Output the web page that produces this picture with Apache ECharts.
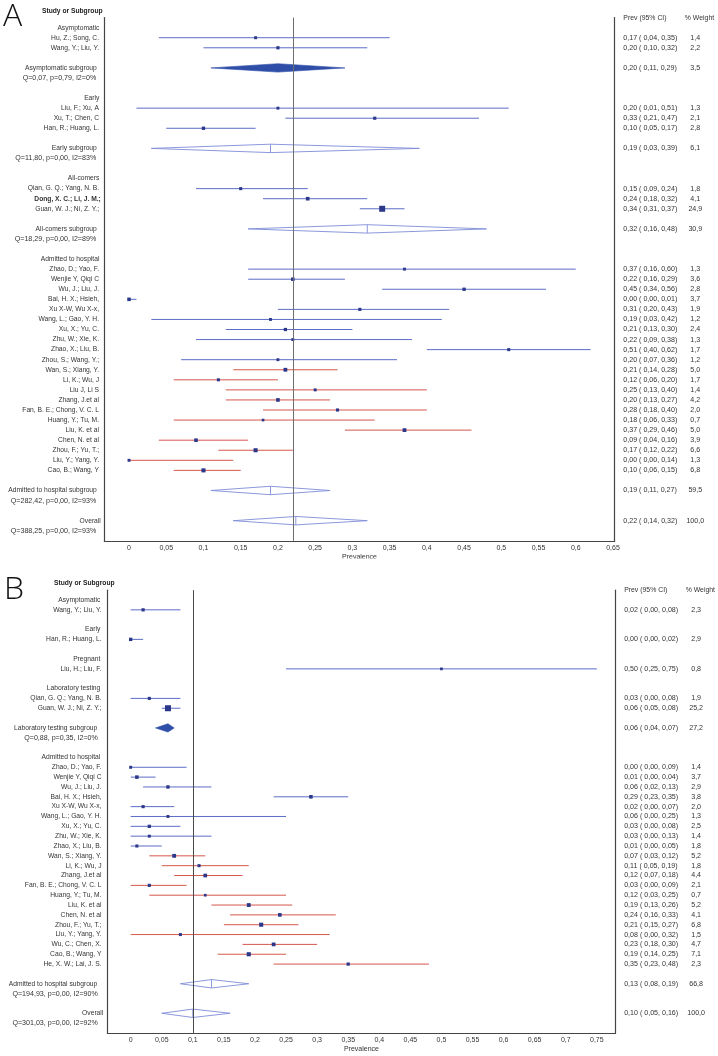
<!DOCTYPE html>
<html><head><meta charset="utf-8">
<script src="https://cdn.jsdelivr.net/npm/echarts@6/dist/echarts.min.js"></script>
<style>html,body{margin:0;padding:0;background:#fff}#c{width:718px;height:1056px}</style>
</head><body><div id="c"></div>
<script>
// ================= Panel A data =================
const groupsA = ['Asymptomatic','Early','All-comers','Admitted to hospital'];
const studiesA = ['Hu, Z.; Song, C.','Wang, Y.; Liu, Y.',
  'Liu, F.; Xu, A','Xu, T.; Chen, C','Han, R.; Huang, L.',
  'Qian, G. Q.; Yang, N. B.','Dong, X. C.; Li, J. M.;','Guan, W. J.; Ni, Z. Y.;',
  'Zhao, D.; Yao, F.','Wenjie Y, Qiqi C','Wu, J.; Liu, J.','Bai, H. X.; Hsieh,','Xu X-W, Wu X-x,',
  'Wang, L.; Gao, Y. H.','Xu, X.; Yu, C.','Zhu, W.; Xie, K.','Zhao, X.; Liu, B.','Zhou, S.; Wang, Y.;',
  'Wan, S.; Xiang, Y.','Li, K.; Wu, J','Liu J, Li S','Zhang, J.et al','Fan, B. E.; Chong, V. C. L',
  'Huang, Y.; Tu, M.','Liu, K. et al','Chen, N. et al','Zhou, F.; Yu, T.;','Liu, Y.; Yang, Y.','Cao, B.; Wang, Y'];
const studyGroupA = [0,0, 1,1,1, 2,2,2, 3,3,3,3,3,3,3,3,3,3,3,3,3,3,3,3,3,3,3,3,3];
const tintA       = [0,0, 0,0,0, 0,0,0, 0,0,0,0,0,0,0,0,0,0,1,1,1,1,1,1,1,1,1,1,1];
const boldA = [6];
const estA = [0.17,0.20, 0.20,0.33,0.10, 0.15,0.24,0.34, 0.37,0.22,0.45,0.00,0.31,0.19,0.21,0.22,0.51,0.20,0.21,0.12,0.25,0.20,0.28,0.18,0.37,0.09,0.17,0.00,0.10];
const loA  = [0.04,0.10, 0.01,0.21,0.05, 0.09,0.18,0.31, 0.16,0.16,0.34,0.00,0.20,0.03,0.13,0.09,0.40,0.07,0.14,0.06,0.13,0.13,0.18,0.06,0.29,0.04,0.12,0.00,0.06];
const hiA  = [0.35,0.32, 0.51,0.47,0.17, 0.24,0.32,0.37, 0.60,0.29,0.56,0.01,0.43,0.42,0.30,0.38,0.62,0.36,0.28,0.20,0.40,0.27,0.40,0.33,0.46,0.16,0.22,0.14,0.15];
const wA   = [1.4,2.2, 1.3,2.1,2.8, 1.8,4.1,24.9, 1.3,3.6,2.8,3.7,1.9,1.2,2.4,1.3,1.7,1.2,5.0,1.7,1.4,4.2,2.0,0.7,5.0,3.9,6.6,1.3,6.8];
const subEstA = [0.20,0.19,0.32,0.19];
const subLoA  = [0.11,0.03,0.16,0.11];
const subHiA  = [0.29,0.39,0.48,0.27];
const subWA   = [3.5,6.1,30.9,59.5];
const subFilledA = [1,0,0,0];
const subQA = ['Q=0,07, p=0,79, I2=0%','Q=11,80, p=0,00, I2=83%','Q=18,29, p=0,00, I2=89%','Q=282,42, p=0,00, I2=93%'];
const overallA = [0.224,0.14,0.32,100.0];
const overallQA = 'Q=388,25, p=0,00, I2=93%';
const ticksA = [0,0.05,0.1,0.15,0.2,0.25,0.3,0.35,0.4,0.45,0.5,0.55,0.6,0.65];

// ================= Panel B data =================
const groupsB = ['Asymptomatic','Early','Pregnant','Laboratory testing','Admitted to hospital'];
const studiesB = ['Wang, Y.; Liu, Y.','Han, R.; Huang, L.','Liu, H.; Liu, F.',
  'Qian, G. Q.; Yang, N. B.','Guan, W. J.; Ni, Z. Y.;',
  'Zhao, D.; Yao, F.','Wenjie Y, Qiqi C','Wu, J.; Liu, J.','Bai, H. X.; Hsieh,','Xu X-W, Wu X-x,',
  'Wang, L.; Gao, Y. H.','Xu, X.; Yu, C.','Zhu, W.; Xie, K.','Zhao, X.; Liu, B.',
  'Wan, S.; Xiang, Y.','Li, K.; Wu, J','Zhang, J.et al','Fan, B. E.; Chong, V. C. L','Huang, Y.; Tu, M.',
  'Liu, K. et al','Chen, N. et al','Zhou, F.; Yu, T.;','Liu, Y.; Yang, Y.','Wu, C.; Chen, X.','Cao, B.; Wang, Y','He, X. W.; Lai, J. S.'];
const studyGroupB = [0,1,2,3,3, 4,4,4,4,4,4,4,4,4,4,4,4,4,4,4,4,4,4,4,4,4];
const tintB       = [0,0,0,0,0, 0,0,0,0,0,0,0,0,0,1,1,1,1,1,1,1,1,1,1,1,1];
const boldB = [];
const estB = [0.02,0.00,0.50,0.03,0.06, 0.00,0.01,0.06,0.29,0.02,0.06,0.03,0.03,0.01,0.07,0.11,0.12,0.03,0.12,0.19,0.24,0.21,0.08,0.23,0.19,0.35];
const loB  = [0.00,0.00,0.25,0.00,0.05, 0.00,0.00,0.02,0.23,0.00,0.00,0.00,0.00,0.00,0.03,0.05,0.07,0.00,0.03,0.13,0.16,0.15,0.00,0.18,0.14,0.23];
const hiB  = [0.08,0.02,0.75,0.08,0.08, 0.09,0.04,0.13,0.35,0.07,0.25,0.08,0.13,0.05,0.12,0.19,0.18,0.09,0.25,0.26,0.33,0.27,0.32,0.30,0.25,0.48];
const wB   = [2.3,2.9,0.8,1.9,25.2, 1.4,3.7,2.9,3.8,2.0,1.3,2.5,1.4,1.8,5.2,1.8,4.4,2.1,0.7,5.2,4.1,6.8,1.5,4.7,7.1,2.3];
const subEstB = [null,null,null,0.06,0.13];
const subLoB  = [null,null,null,0.04,0.08];
const subHiB  = [null,null,null,0.07,0.19];
const subWB   = [null,null,null,27.2,66.8];
const subFilledB = [0,0,0,1,0];
const subQB = [null,null,null,'Q=0,88, p=0,35, I2=0%','Q=194,93, p=0,00, I2=90%'];
const overallB = [0.10,0.05,0.16,100.0];
const overallQB = 'Q=301,03, p=0,00, I2=92%';
const ticksB = [0,0.05,0.1,0.15,0.2,0.25,0.3,0.35,0.4,0.45,0.5,0.55,0.6,0.65,0.7,0.75];

// ================= helpers =================
const FONT = '"Liberation Sans", Arial, Helvetica, sans-serif';
const BLUE = '#5b6cc6', RED = '#d5574d', SQ = '#2b3788', DFILL = '#2f4ea8', DLINE = '#7e8cd8', AX = '#454545';
const f2 = v => v.toFixed(2).replace('.', ',');
const f1 = v => v.toFixed(1).replace('.', ',');
const valTxt = (e,l,h,w) => '{v|' + f2(e) + ' ( ' + f2(l) + ', ' + f2(h) + ')}{w|' + f1(w) + '}';

function build(P){
  const left = {}, right = {}, studies = [], sums = [];
  let r = 0;
  P.groups.forEach((g, gi) => {
    left[r] = '{g|' + g + '}'; r++;
    P.studies.forEach((s, si) => {
      if (P.studyGroup[si] !== gi) return;
      left[r] = (P.bold.indexOf(si) >= 0 ? '{b|' : '{n|') + s + '}';
      right[r] = valTxt(P.est[si], P.lo[si], P.hi[si], P.w[si]);
      studies.push([P.est[si], P.lo[si], P.hi[si], r, P.w[si], P.tint[si]]);
      r++;
    });
    r++;
    if (P.subEst[gi] != null){
      left[r] = '{s|' + g + ' subgroup}';
      right[r] = valTxt(P.subEst[gi], P.subLo[gi], P.subHi[gi], P.subW[gi]);
      sums.push([P.subEst[gi], P.subLo[gi], P.subHi[gi], r, P.subFilled[gi]]);
      r++;
      left[r] = '{q|' + P.subQ[gi] + '}'; r++;
      r++;
    }
  });
  left[r] = '{o|Overall}';
  right[r] = valTxt(P.overall[0], P.overall[1], P.overall[2], P.overall[3]);
  sums.push([P.overall[0], P.overall[1], P.overall[2], r, 0]);
  r++;
  left[r] = '{q|' + P.overallQ + '}';
  right[-1] = '{h|Prev (95% CI)}{hw|% Weight}';
  return {left, right, studies, sums, last: r};
}

const A = build({groups:groupsA, studies:studiesA, studyGroup:studyGroupA, tint:tintA, bold:boldA,
  est:estA, lo:loA, hi:hiA, w:wA, subEst:subEstA, subLo:subLoA, subHi:subHiA, subW:subWA,
  subFilled:subFilledA, subQ:subQA, overall:overallA, overallQ:overallQA});
const B = build({groups:groupsB, studies:studiesB, studyGroup:studyGroupB, tint:tintB, bold:boldB,
  est:estB, lo:loB, hi:hiB, w:wB, subEst:subEstB, subLo:subLoB, subHi:subHiB, subW:subWB,
  subFilled:subFilledB, subQ:subQB, overall:overallB, overallQ:overallQB});

function renderStudy(params, api){
  const est = api.value(0), lo = api.value(1), hi = api.value(2), row = api.value(3), w = api.value(4), t = api.value(5);
  const p0 = api.coord([lo, row]), p1 = api.coord([hi, row]), pc = api.coord([est, row]);
  const s = 2 + 0.8 * Math.sqrt(w);
  return {type:'group', children:[
    {type:'line', shape:{x1:p0[0], y1:p0[1], x2:p1[0], y2:p1[1]}, style:{stroke: t ? RED : BLUE, lineWidth:1}},
    {type:'rect', shape:{x:pc[0]-s/2, y:pc[1]-s/2, width:s, height:s}, style:{fill:SQ}}
  ]};
}
function renderSum(params, api){
  const est = api.value(0), lo = api.value(1), hi = api.value(2), row = api.value(3), filled = api.value(4);
  const pl = api.coord([lo, row]), pr = api.coord([hi, row]), pc = api.coord([est, row]);
  const h = 4.2;
  const pts = [[pl[0], pl[1]], [pc[0], pc[1]-h], [pr[0], pr[1]], [pc[0], pc[1]+h]];
  const ch = [{type:'polygon', shape:{points:pts},
    style: filled ? {fill:DFILL, stroke:DFILL, lineWidth:0.6} : {fill:'none', stroke:DLINE, lineWidth:0.9}}];
  if (!filled) ch.push({type:'line', shape:{x1:pc[0], y1:pc[1]-h, x2:pc[0], y2:pc[1]+h}, style:{stroke:DLINE, lineWidth:0.9}});
  return {type:'group', children:ch};
}

function leftRich(p){
  const base = {fontFamily:FONT, fontSize:6.7, color:'#333'};
  return {
    g: Object.assign({}, base, {padding:[0,p.g,0,0]}),
    n: Object.assign({}, base, {padding:[0,p.n,0,0]}),
    b: Object.assign({}, base, {fontWeight:'bold', padding:[0,p.b,0,0]}),
    s: Object.assign({}, base, {padding:[0,p.s,0,0]}),
    q: Object.assign({}, base, {fontSize:7.1, padding:[0,p.q,0,0]}),
    o: Object.assign({}, base, {padding:[0,p.o,0,0]})
  };
}
const rightRich = {
  v: {fontFamily:FONT, fontSize:7.1, color:'#333', width:64, align:'left'},
  w: {fontFamily:FONT, fontSize:7.1, color:'#333', width:16, align:'center'},
  h: {fontFamily:FONT, fontSize:6.9, color:'#333', width:61.5, align:'left'},
  hw:{fontFamily:FONT, fontSize:6.9, color:'#333', align:'left'}
};
const xFmt = v => String(+(+v).toFixed(2)).replace('.', ',');

function xAxisCfg(gi, min, max, ticks){
  return {type:'value', gridIndex:gi, min:min, max:max, position:'bottom',
    axisLine:{show:true, onZero:false, lineStyle:{color:AX, width:1.2}}, axisTick:{show:false}, splitLine:{show:false},
    axisLabel:{customValues:ticks, formatter:xFmt, fontFamily:FONT, fontSize:7, color:'#333', margin:4},
    name:'Prevalence', nameLocation:'middle', nameGap:12.5,
    nameTextStyle:{fontFamily:FONT, fontSize:7, color:'#333'}};
}
function yLeft(gi, P, margin, pads){
  const rows = Object.keys(P.left).map(Number);
  return {type:'value', gridIndex:gi, inverse:true, min:-1, max:P.last+1, position:'left',
    axisLine:{show:true, onZero:false, lineStyle:{color:AX, width:1.2}}, axisTick:{show:false}, splitLine:{show:false},
    axisLabel:{customValues:rows, formatter:v => P.left[Math.round(v)] || '', margin:margin, rich:leftRich(pads)}};
}
function yRight(gi, P){
  const rows = Object.keys(P.right).map(Number);
  return {type:'value', gridIndex:gi, inverse:true, min:-1, max:P.last+1, position:'right',
    axisLine:{show:true, onZero:false, lineStyle:{color:AX, width:1.2}}, axisTick:{show:false}, splitLine:{show:false},
    axisLabel:{customValues:rows, formatter:v => P.right[Math.round(v)] || '', margin:8.6, rich:rightRich}};
}

const chart = echarts.init(document.getElementById('c'), null, {renderer:'canvas'});
chart.setOption({
  animation:false,
  backgroundColor:'#fff',
  title:[
    {text:'A', left:3, top:1, padding:0, textStyle:{fontFamily:'"Open Sans", sans-serif', fontWeight:300, fontSize:32, color:'#111'}},
    {text:'Study or Subgroup', left:42, top:7.2, padding:0, textStyle:{fontFamily:FONT, fontWeight:'bold', fontSize:6.7, color:'#222'}},
    {text:'B', left:4, top:573.5, padding:0, textStyle:{fontFamily:'"Open Sans", sans-serif', fontWeight:300, fontSize:32, color:'#111'}},
    {text:'Study or Subgroup', left:54, top:579.8, padding:0, textStyle:{fontFamily:FONT, fontWeight:'bold', fontSize:6.7, color:'#222'}}
  ],
  grid:[
    {left:104.3, top:17.6, width:510.4, height:523.2, containLabel:false},
    {left:107.3, top:590.16, width:508.4, height:442.8, containLabel:false}
  ],
  xAxis:[xAxisCfg(0, -0.0332, 0.6523, ticksA), xAxisCfg(1, -0.0376, 0.7801, ticksB)],
  yAxis:[
    yLeft(0, A, 3.5, {g:1.4, n:1.8, b:0, s:4, q:4.6, o:0}),
    yRight(0, A),
    yLeft(1, B, 4, {g:3, n:1.8, b:0, s:6, q:5.5, o:0}),
    yRight(1, B)
  ],
  graphic:[{type:'rect', left:0, top:558.6, shape:{width:718, height:14}, style:{fill:'#fff'}, z:100}],
  series:[
    {type:'custom', xAxisIndex:0, yAxisIndex:0, renderItem:renderStudy, data:A.studies, z:3},
    {type:'custom', xAxisIndex:0, yAxisIndex:0, renderItem:renderSum, data:A.sums, z:3,
      markLine:{silent:true, symbol:'none', label:{show:false}, lineStyle:{color:'#6e6e6e', type:'solid', width:1}, data:[{xAxis:overallA[0]}]}},
    {type:'custom', xAxisIndex:1, yAxisIndex:2, renderItem:renderStudy, data:B.studies, z:3},
    {type:'custom', xAxisIndex:1, yAxisIndex:2, renderItem:renderSum, data:B.sums, z:3,
      markLine:{silent:true, symbol:'none', label:{show:false}, lineStyle:{color:'#4a4a4a', type:'solid', width:1}, data:[{xAxis:overallB[0]}]}}
  ]
});
</script></body></html>
